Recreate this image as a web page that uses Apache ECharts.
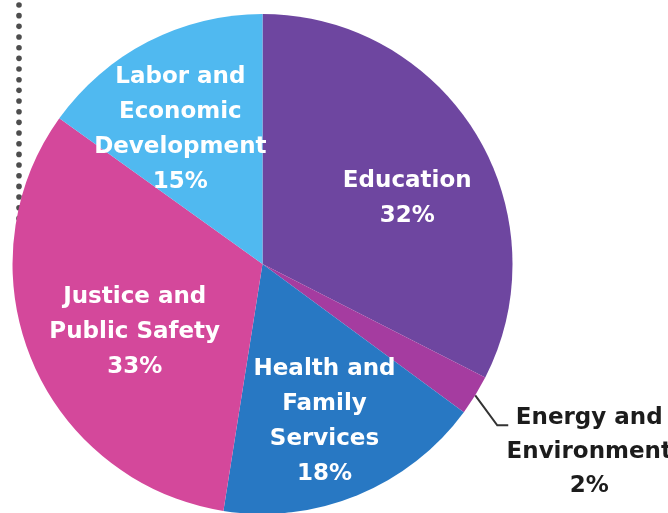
<!DOCTYPE html>
<html>
<head>
<meta charset="utf-8">
<script src="https://cdn.jsdelivr.net/npm/echarts@6/dist/echarts.min.js"></script>
<style>
html,body{margin:0;padding:0;background:#fff;}
#chart{width:668px;height:513px;}
</style>
</head>
<body>
<div id="chart"></div>
<script>
// Data
var categories = ["Education", "Energy and\nEnvironment", "Health and\nFamily\nServices", "Justice and\nPublic Safety", "Labor and\nEconomic\nDevelopment"];
var shares = [32.5, 2.6, 17.4, 32.4, 15.1];
var shareLabels = ["32%", "2%", "18%", "33%", "15%"];

var colors = ["#6E46A0", "#A53CA0", "#2878C3", "#D4489B", "#50B9F0"];
var innerOffsets = [[10, 17], [0, 0], [2, 11], [18, 7], [-10, 6]];

var chart = echarts.init(document.getElementById('chart'));
var FONT = '"DejaVu Sans", sans-serif';

var sliceData = categories.map(function (c, i) {
  var item = { name: c, value: shares[i], itemStyle: { color: colors[i] } };
  if (i === 1) {
    item.label = {
      show: true, position: 'outside',
      formatter: function (p) { return p.name + '\n' + shareLabels[p.dataIndex]; },
      color: '#1c1c1c', fontFamily: FONT, fontWeight: 'bold', fontSize: 23,
      lineHeight: 34, align: 'center'
    };
    item.labelLine = { show: true, length: 20, length2: 12, lineStyle: { color: '#333', width: 2 } };
  } else {
    item.label = { show: false };
    item.labelLine = { show: false };
  }
  return item;
});

var labelData = categories.map(function (c, i) {
  var item = { name: c, value: shares[i] };
  if (i === 1) {
    item.label = { show: false };
  } else {
    item.label = { show: true, offset: innerOffsets[i] };
  }
  return item;
});

// decorative dotted rule on the left
var dots = [];
for (var k = 0; k < 21; k++) {
  dots.push({
    type: 'circle',
    shape: { cx: 19, cy: 5 + k * 10.67, r: 2.8 },
    style: { fill: '#4d4d4d' },
    silent: true
  });
}

chart.setOption({
  animation: false,
  graphic: dots,
  series: [{
    type: 'pie',
    center: [262.5, 264],
    radius: [0, 250],
    startAngle: 90,
    clockwise: true,
    avoidLabelOverlap: false,
    data: sliceData,
    labelLayout: function (params) {
      if (params.dataIndex !== 1 || !params.labelLinePoints) return {};
      var p0 = params.labelLinePoints[0];
      var p1 = [p0[0] + 22, p0[1] + 30];
      var p2 = [p1[0] + 11, p1[1]];
      return {
        x: p2[0] + 81, y: p2[1] + 27,
        align: 'center', verticalAlign: 'middle',
        labelLinePoints: [p0, p1, p2]
      };
    }
  }, {
    type: 'pie',
    center: [262.5, 264],
    radius: [0, 310],
    startAngle: 90,
    clockwise: true,
    silent: true,
    avoidLabelOverlap: false,
    itemStyle: { color: 'rgba(0,0,0,0)', borderWidth: 0 },
    label: {
      position: 'inside',
      formatter: function (p) { return p.name + '\n' + shareLabels[p.dataIndex]; },
      color: '#ffffff', fontFamily: FONT, fontWeight: 'bold', fontSize: 23,
      lineHeight: 35, align: 'center'
    },
    labelLine: { show: false },
    data: labelData
  }]
});
</script>
</body>
</html>
